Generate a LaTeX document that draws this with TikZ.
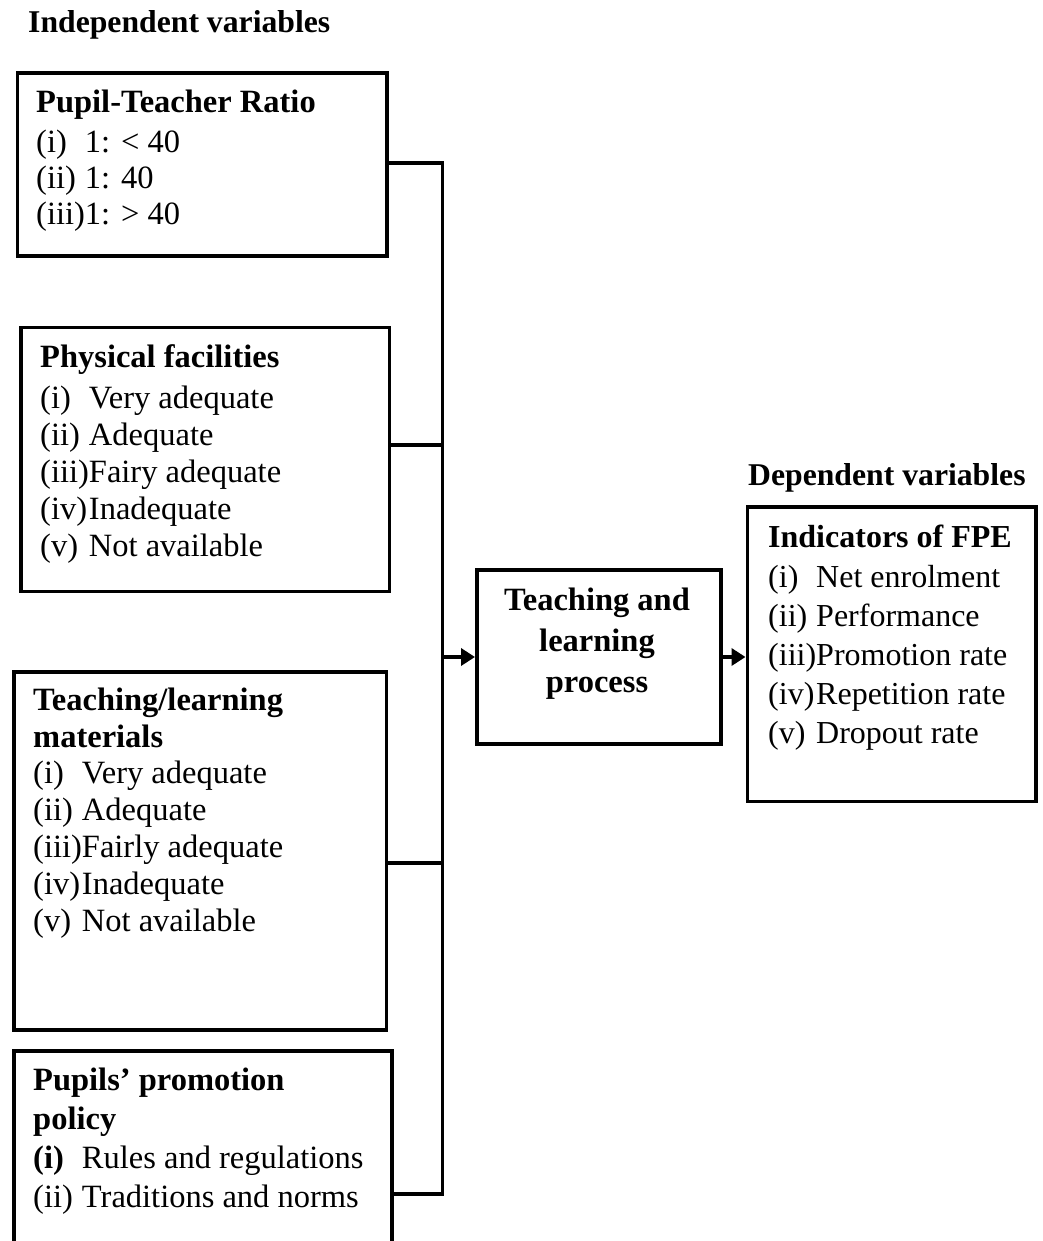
\documentclass[tikz,border=0pt]{standalone}
\usepackage{fontspec}
\setmainfont{Liberation Serif}
\usetikzlibrary{arrows.meta}
\newcommand\itemlab[1]{\makebox[1.5em][l]{#1}}
\newcommand\toprule{\rule{0pt}{25pt}}
\begin{document}
\begin{tikzpicture}[x=1pt,y=-1pt,
  box/.style={draw, line width=3.5pt, rectangle, inner sep=0pt, anchor=north west},
  conn/.style={line width=3.5pt},
  arr/.style={line width=3.5pt, -{Triangle[length=14pt,width=17pt]}},
  txt/.style={inner sep=0pt, anchor=north west, align=left},
  hdr/.style={inner sep=0pt, anchor=base west, font=\fontsize{31.7}{37}\selectfont\bfseries}
]
\useasboundingbox (0,0) rectangle (1042,1241);

% headers
\node[hdr] (indep) at (28,33) {Independent variables};
\node[hdr] (dep) at (748,485) {Dependent variables};

% boxes
\node[box, minimum width=369.5pt, minimum height=182.5pt] (b1) at (15.5,71.5) {};
\node[box, minimum width=368.5pt, minimum height=264pt] (b2) at (19,325.5) {};
\node[box, minimum width=372.5pt, minimum height=358pt] (b3) at (12,670) {};
\node[box, minimum width=378pt, minimum height=300pt] (b4) at (12,1049) {};
\node[box, minimum width=244pt, minimum height=174pt] (tl) at (475,568) {};
\node[box, minimum width=288.5pt, minimum height=294.5pt] (fpe) at (745.5,505) {};

% texts
\node[txt, font=\fontsize{32.5}{36}\selectfont] (t1) at (36,87) {\toprule\textbf{Pupil-Teacher Ratio}\\[4pt]
\itemlab{(i)}1: < 40\\
\itemlab{(ii)}1: 40\\
\itemlab{(iii)}1: > 40};

\node[txt, font=\fontsize{32.5}{37}\selectfont] (t2) at (40,342) {\toprule\textbf{Physical facilities}\\[4pt]
\itemlab{(i)}Very adequate\\
\itemlab{(ii)}Adequate\\
\itemlab{(iii)}Fairy adequate\\
\itemlab{(iv)}Inadequate\\
\itemlab{(v)}Not available};

\node[txt, font=\fontsize{32.5}{36.8}\selectfont] (t3) at (33,685) {\toprule\textbf{Teaching/learning}\\
\textbf{materials}\\
\itemlab{(i)}Very adequate\\
\itemlab{(ii)}Adequate\\
\itemlab{(iii)}Fairly adequate\\
\itemlab{(iv)}Inadequate\\
\itemlab{(v)}Not available};

\node[txt, font=\fontsize{32.5}{39}\selectfont] (t4) at (33,1065) {\toprule\textbf{Pupils’ promotion}\\
\textbf{policy}\\
\itemlab{\textbf{(i)}}Rules and regulations\\
\itemlab{(ii)}Traditions and norms};

\node[inner sep=0pt, anchor=north, align=center, font=\fontsize{32.5}{41}\selectfont\bfseries] (t5) at (597,585) {\toprule Teaching and\\ learning\\ process};

\node[txt, font=\fontsize{32}{39}\selectfont] (t6) at (768,522) {\toprule\textbf{Indicators of FPE}\\[1pt]
\itemlab{(i)}Net enrolment\\
\itemlab{(ii)}Performance\\
\itemlab{(iii)}Promotion rate\\
\itemlab{(iv)}Repetition rate\\
\itemlab{(v)}Dropout rate};

% bus connectors
\coordinate (j1) at (442.5,163);
\coordinate (j2) at (442.5,445);
\coordinate (j3) at (442.5,863);
\coordinate (j4) at (442.5,1194);
\draw[conn] (b1.east |- j1) -- (j1) -- (j4) -- (b4.east |- j4);
\draw[conn] (b2.east |- j2) -- (j2);
\draw[conn] (b3.east |- j3) -- (j3);

% arrows
\coordinate (ja) at (442.5,657);
\draw[arr] (ja) -- (tl.west |- ja);
\draw[arr] (tl.east |- ja) -- (fpe.west |- ja);
\end{tikzpicture}
\end{document}
